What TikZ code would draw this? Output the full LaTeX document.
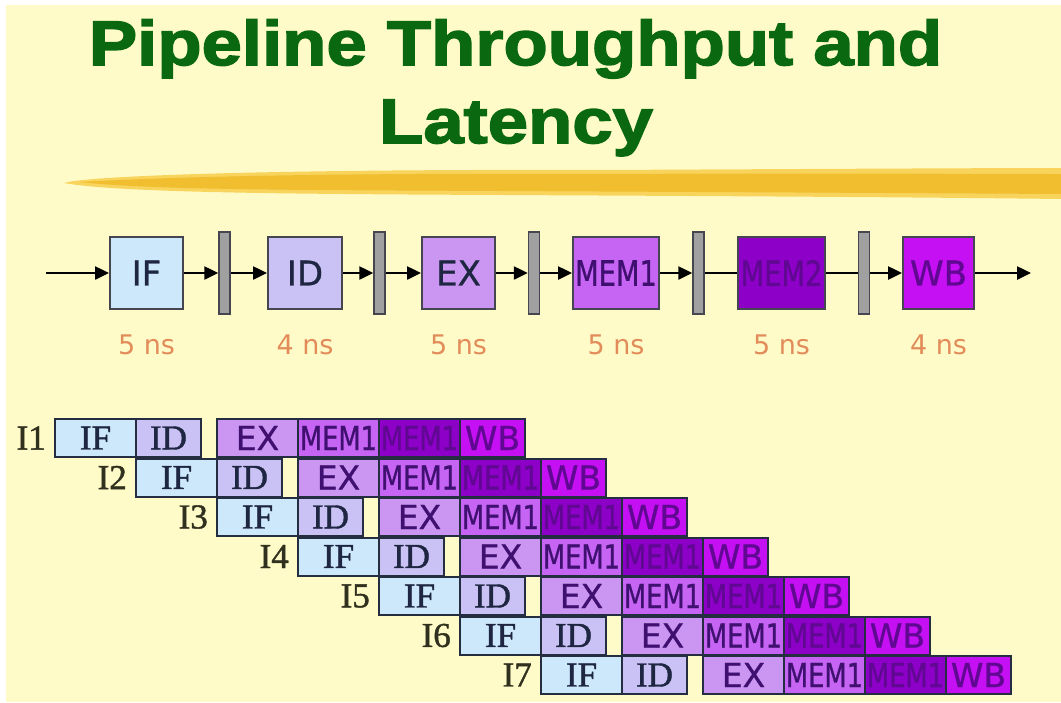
\documentclass[tikz,border=0pt]{standalone}
\usepackage{fontspec}
\usetikzlibrary{arrows.meta}
\newfontfamily\titlefont[FakeStretch=1.15,FakeBold=2.5]{Liberation Sans}
\newfontfamily\pipefont[FakeBold=0.8]{DejaVu Sans}
\newfontfamily\nsfont{DejaVu Sans}
\newfontfamily\condfont[FakeStretch=0.78,FakeBold=0.8]{DejaVu Sans}
\newfontfamily\seriffont[FakeBold=1.2]{Liberation Serif}
\definecolor{bg}{RGB}{255,251,200}
\definecolor{titlegreen}{RGB}{10,104,16}
\definecolor{brushA}{RGB}{248,212,92}
\definecolor{brushB}{RGB}{240,190,46}
\definecolor{cIF}{RGB}{204,232,250}
\definecolor{cID}{RGB}{202,194,244}
\definecolor{cEX}{RGB}{202,150,242}
\definecolor{cMEMa}{RGB}{198,100,244}
\definecolor{cMEMb}{RGB}{140,0,200}
\definecolor{cWB}{RGB}{196,16,242}
\definecolor{boxline}{RGB}{70,70,80}
\definecolor{tabline}{RGB}{36,46,64}
\definecolor{latchfill}{RGB}{160,160,160}
\definecolor{nsorange}{RGB}{226,140,90}
\definecolor{txtA}{RGB}{30,38,66}
\definecolor{txtB}{RGB}{64,16,112}
\definecolor{txtC}{RGB}{96,8,146}
\definecolor{lblcol}{RGB}{48,48,30}
\tikzset{
  pbox/.style={draw=boxline, line width=2pt, minimum height=72pt, inner sep=0pt},
  latch/.style={draw=boxline, line width=1.5pt, fill=latchfill, minimum width=11pt, minimum height=82pt, inner sep=0pt},
  arr/.style={line width=2.5pt, -{Triangle[length=14pt,width=13pt]}},
  plain/.style={line width=2.5pt},
  nslabel/.style={text=nsorange, font=\nsfont\fontsize{27}{27}\selectfont},
  tbox/.style={draw=tabline, line width=2pt, minimum height=38pt, inner sep=0pt},
  tlabel/.style={anchor=east, text=lblcol, font=\seriffont\fontsize{35}{35}\selectfont, inner sep=0pt},
}
\begin{document}
\begin{tikzpicture}[x=1pt,y=-1pt]
\useasboundingbox (0,0) rectangle (1061,702);
\fill[white] (0,0) rectangle (1061,702);
\fill[bg] (6,5) rectangle (1061,702);
% title
\node[anchor=base, text=titlegreen, font=\titlefont\bfseries\fontsize{63}{63}\selectfont, inner sep=0pt] (t1) at (515.5,65) {Pipeline Throughput and};
\node[anchor=base, text=titlegreen, font=\titlefont\bfseries\fontsize{63}{63}\selectfont, inner sep=0pt] (t2) at (516,143) {Latency};
% brush stroke
\fill[brushA] (64,183) .. controls (90,175) and (300,169) .. (600,170) .. controls (800,169) and (1000,168) .. (1061,168) -- (1061,199) .. controls (900,197) and (700,196) .. (500,195) .. controls (300,194) and (120,193) .. (64,183) -- cycle;
\fill[brushB] (80,182) .. controls (200,175) and (400,173) .. (600,174) .. controls (800,173) and (1000,174) .. (1061,174) -- (1061,194) .. controls (900,193) and (700,192) .. (500,191) .. controls (300,190) and (150,190) .. (80,182) -- cycle;
% top pipeline
\node[pbox, fill=cIF, minimum width=73pt, text=txtA, font=\pipefont\fontsize{34}{34}\selectfont] (IF) at (146.5,273) {IF};
\node[pbox, fill=cID, minimum width=74pt, text=txtA, font=\pipefont\fontsize{34}{34}\selectfont] (ID) at (305,273) {ID};
\node[pbox, fill=cEX, minimum width=73pt, text=txtA, font=\pipefont\fontsize{34}{34}\selectfont] (EX) at (458.5,273) {EX};
\node[pbox, fill=cMEMa, minimum width=86pt, text=txtB, font=\condfont\fontsize{35}{35}\selectfont] (MEM1) at (616,273) {MEM1};
\node[pbox, fill=cMEMb, minimum width=87pt, text=txtC, font=\condfont\fontsize{35}{35}\selectfont] (MEM2) at (781.5,273) {MEM2};
\node[pbox, fill=cWB, minimum width=71pt, text=txtC, font=\pipefont\fontsize{34}{34}\selectfont] (WB) at (938.5,273) {WB};
\node[latch] (L1) at (224.5,273) {};
\node[latch] (L2) at (379.5,273) {};
\node[latch] (L3) at (534,273) {};
\node[latch] (L4) at (698.5,273) {};
\node[latch] (L5) at (864,273) {};
\coordinate (in) at (46,273);
\coordinate (out) at (1031,273);
\draw[arr] (in) -- (IF);
\draw[arr] (IF) -- (L1);
\draw[arr] (L1) -- (ID);
\draw[arr] (ID) -- (L2);
\draw[arr] (L2) -- (EX);
\draw[arr] (EX) -- (L3);
\draw[arr] (L3) -- (MEM1);
\draw[arr] (MEM1) -- (L4);
\draw[plain] (L4) -- (MEM2);
\draw[plain] (MEM2) -- (L5);
\draw[arr] (L5) -- (WB);
\draw[arr] (WB) -- (out);
\node[nslabel] (n1) at (146.5,345) {5 ns};
\node[nslabel] (n2) at (305,345) {4 ns};
\node[nslabel] (n3) at (458.5,345) {5 ns};
\node[nslabel] (n4) at (616,345) {5 ns};
\node[nslabel] (n5) at (781.5,345) {5 ns};
\node[nslabel] (n6) at (938.5,345) {4 ns};
% table
\foreach \i in {0,...,6} {
  \pgfmathsetmacro{\bx}{55+81*\i}
  \pgfmathsetmacro{\by}{438+39.5*\i}
  \pgfmathtruncatemacro{\n}{\i+1}
  \node[tlabel] (lab\n) at (\bx-9,\by) {I\n};
  \node[tbox, fill=cIF, minimum width=81pt, text=txtA, font=\seriffont\fontsize{35}{35}\selectfont] (r\n-if) at (\bx+40.5,\by) {IF};
  \node[tbox, fill=cID, minimum width=65pt, text=txtA, font=\seriffont\fontsize{35}{35}\selectfont] (r\n-id) at (\bx+113.5,\by) {ID};
  \node[tbox, fill=cEX, minimum width=81pt, text=txtB, font=\pipefont\fontsize{33}{33}\selectfont] (r\n-ex) at (\bx+202.5,\by) {EX};
  \node[tbox, fill=cMEMa, minimum width=81pt, text=txtB, font=\condfont\fontsize{33}{33}\selectfont] (r\n-m1) at (\bx+283.5,\by) {MEM1};
  \node[tbox, fill=cMEMb, minimum width=81pt, text=txtC, font=\condfont\fontsize{33}{33}\selectfont] (r\n-m2) at (\bx+364.5,\by) {MEM1};
  \node[tbox, fill=cWB, minimum width=65pt, text=txtC, font=\pipefont\fontsize{33}{33}\selectfont] (r\n-wb) at (\bx+437.5,\by) {WB};
}
\end{tikzpicture}
\end{document}
